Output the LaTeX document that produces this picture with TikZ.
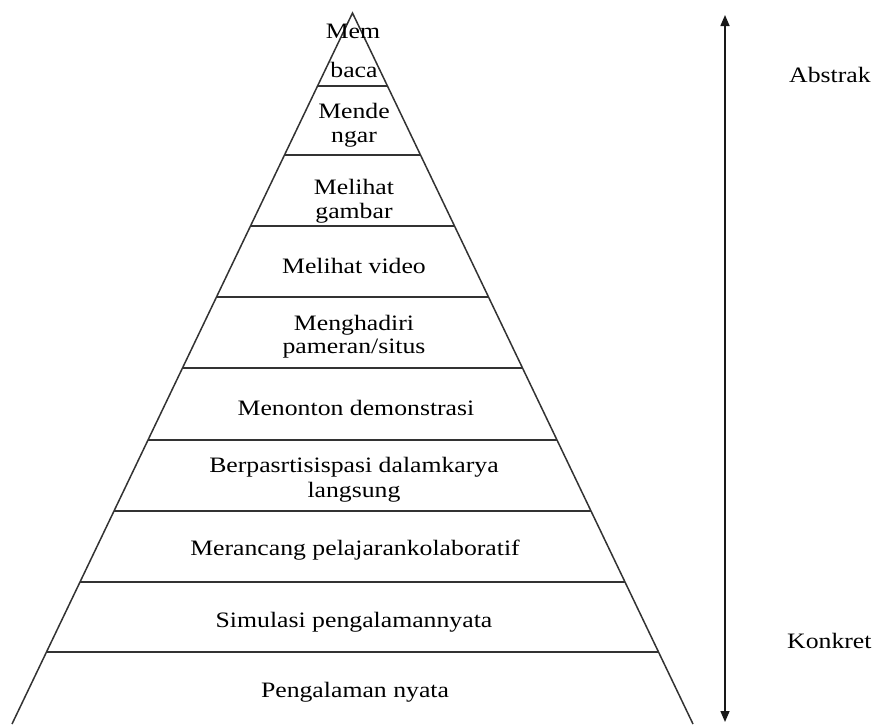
\documentclass[tikz,border=0pt]{standalone}
\usepackage{fontspec}
\setmainfont{Liberation Serif}[FakeStretch=1.17]
\usetikzlibrary{arrows.meta}
\begin{document}
\begin{tikzpicture}[x=1pt,y=-1pt,
  edge/.style={draw=black!80,line width=1.5pt},
  lbl/.style={anchor=base,inner sep=0pt,text=black,font=\fontsize{22}{25}\selectfont},
  side/.style={lbl,anchor=base west},
  axis/.style={draw=black!90,line width=1.5pt,{Triangle[length=11pt,width=9pt]}-{Triangle[length=11pt,width=9pt]}}]
\useasboundingbox (0,0) rectangle (878,724);
% pyramid outline (apex and the two slanted sides)
\coordinate (apex) at (352.5,13);
\coordinate (bl) at (12,724);
\coordinate (br) at (693,724);
\draw[edge,line join=miter] (bl) -- (apex) -- (br);
% level dividers, each ending on the slanted sides
\foreach \yy in {86,155,226,297,368,440,511,582,652}{
  \pgfmathsetmacro{\hw}{0.479*(\yy-13)}
  \draw[edge] ({352.5-\hw},\yy) -- ({352.5+\hw},\yy);
}
% level texts
\node[lbl] (l1a) at (353,38) {Mem};
\node[lbl] (l1b) at (354,77) {baca};
\node[lbl] (l2a) at (354,118) {Mende};
\node[lbl] (l2b) at (354,142) {ngar};
\node[lbl] (l3a) at (354,194) {Melihat};
\node[lbl] (l3b) at (354,218) {gambar};
\node[lbl] (l4) at (354,273) {Melihat video};
\node[lbl] (l5a) at (354,330) {Menghadiri};
\node[lbl] (l5b) at (354,353) {pameran/situs};
\node[lbl] (l6) at (356,415) {Menonton demonstrasi};
\node[lbl] (l7a) at (354,472) {Berpasrtisispasi dalamkarya};
\node[lbl] (l7b) at (354,497) {langsung};
\node[lbl] (l8) at (355,555) {Merancang pelajarankolaboratif};
\node[lbl] (l9) at (354,627) {Simulasi pengalamannyata};
\node[lbl] (l10) at (355,697) {Pengalaman nyata};
% abstract-to-concrete axis
\coordinate (ax1) at (725,15);
\coordinate (ax2) at (725,722);
\draw[axis] (ax1) -- (ax2);
\node[side] (abs) at (789,82) {Abstrak};
\node[side] (kon) at (787,648) {Konkret};
\end{tikzpicture}
\end{document}
